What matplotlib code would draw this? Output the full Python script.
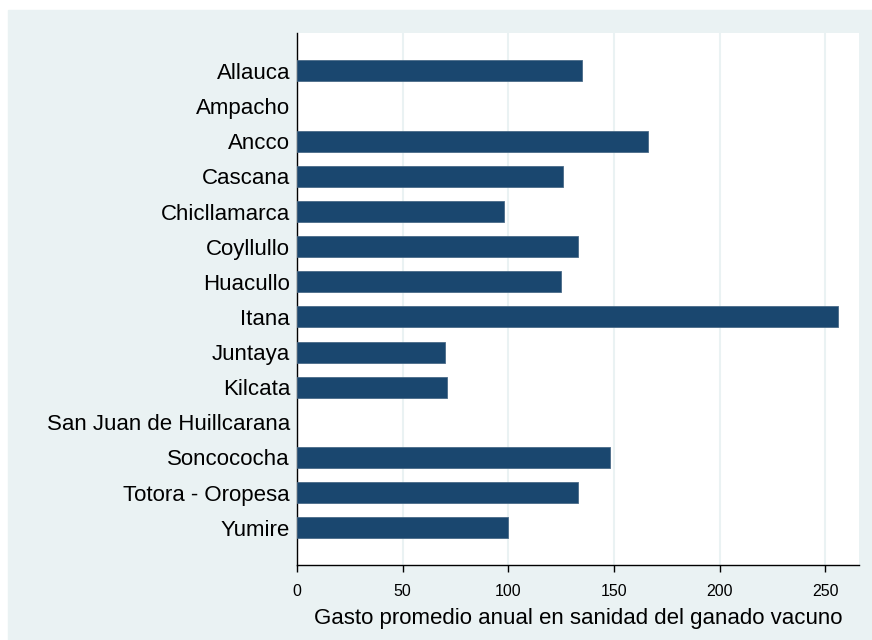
import matplotlib.pyplot as plt

# ---- data ----
districts = ["Allauca", "Ampacho", "Ancco", "Cascana", "Chicllamarca", "Coyllullo",
             "Huacullo", "Itana", "Juntaya", "Kilcata", "San Juan de Huillcarana",
             "Soncococha", "Totora - Oropesa", "Yumire"]
gasto = [135, 0, 166, 126, 98, 133, 125, 256, 70, 71, 0, 148, 133, 100]
xticks = [0, 50, 100, 150, 200, 250]

plt.rcParams["font.family"] = ["Liberation Sans", "DejaVu Sans"]

bg = "#EAF2F3"
navy = "#1A476F"

fig = plt.figure(figsize=(8.72, 6.4), dpi=100, facecolor="white")
# light panel behind the plot (stata style)
fig.patches.append(plt.Rectangle((8 / 872, 0), 1, 1 - 10 / 640,
                                 transform=fig.transFigure, color=bg, zorder=-10))

ax = fig.add_axes([297 / 872, 1 - 565 / 640, (859 - 297) / 872, (565 - 33) / 640])
ax.set_facecolor("white")

pos = list(range(len(districts)))
# no outline on the empty bars
lw = [0.6 if v > 0 else 0 for v in gasto]
ax.barh(pos, gasto, height=0.6, color=navy, edgecolor="#4A6A88", linewidth=lw, zorder=3)

ax.set_ylim(len(districts) - 1 + 1.06, -1.08)
ax.set_xlim(0, 266)
ax.set_yticks(pos)
ax.set_yticklabels(districts, fontsize=16)
ax.tick_params(axis="y", length=0, pad=5)
ax.set_xticks(xticks)
ax.tick_params(axis="x", length=5, width=1, labelsize=11.5, pad=9, direction="out")
ax.xaxis.grid(True, color=bg, linewidth=1.5, zorder=1)
ax.set_axisbelow(True)

for s in ["top", "right"]:
    ax.spines[s].set_visible(False)
for s in ["left", "bottom"]:
    ax.spines[s].set_linewidth(1)
    ax.spines[s].set_color("black")

ax.set_xlabel("Gasto promedio anual en sanidad del ganado vacuno", fontsize=16, labelpad=6)

fig.savefig("out.png", dpi=100, facecolor=fig.get_facecolor())
